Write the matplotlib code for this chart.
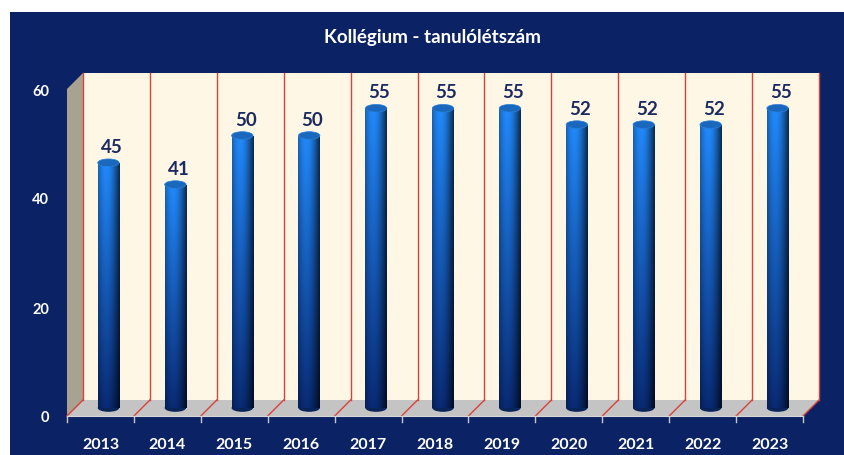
import numpy as np
import matplotlib
matplotlib.use("Agg")
import matplotlib.pyplot as plt
from matplotlib.patches import Rectangle, Polygon, Ellipse

plt.rcParams['font.family'] = ['Lato', 'DejaVu Sans']

# data
years = ['2013', '2014', '2015', '2016', '2017', '2018', '2019', '2020', '2021', '2022', '2023']
students = [45, 41, 50, 50, 55, 55, 55, 52, 52, 52, 55]
yticks = [0, 20, 40, 60]
title = 'Kollégium - tanulólétszám'

navy = '#0b2264'
cream = '#fff7e6'
red = '#d9423c'

W, H = 845, 456
fig = plt.figure(figsize=(W / 100, H / 100), dpi=100)
fig.patch.set_facecolor('white')
fig.add_artist(Rectangle((10 / W, 0), 1 - 10 / W, 1 - 13 / H, transform=fig.transFigure,
                         facecolor=navy, edgecolor='none', zorder=0))

ax = fig.add_axes([67 / W, 39 / H, 736 / W, 327 / H])
ax.set_facecolor('none')
for s in ax.spines.values():
    s.set_visible(False)

n = len(years)
ymax = 60
x0, x1 = -0.5, n - 0.5
# depth offset of the back wall (16 px right, 16 px up)
dx = 16 / (736 / n)
dy = 16 / (327 / ymax)

# back wall, side wall, floor
ax.add_patch(Rectangle((x0 + dx, dy), n, ymax, facecolor=cream, edgecolor='none', zorder=0, clip_on=False))
ax.add_patch(Polygon([(x0, 0), (x0 + dx, dy), (x0 + dx, ymax + dy), (x0, ymax)],
                     facecolor='#a8a390', edgecolor='none', zorder=0, clip_on=False))
ax.add_patch(Polygon([(x0, 0), (x1, 0), (x1 + dx, dy), (x0 + dx, dy)],
                     facecolor='#c4c4c4', edgecolor='none', zorder=0.5, clip_on=False))

# red category separators on wall and floor
for k in range(n + 1):
    xb = x0 + k
    ax.plot([xb + dx, xb + dx], [dy, ymax + dy], color=red, lw=1, zorder=1, clip_on=False)
    ax.plot([xb, xb + dx], [0, dy], color=red, lw=1, zorder=1, clip_on=False)
    # tick marks under the front edge
    ax.plot([xb, xb], [0, -1.1], color='#c8c8c8', lw=1, zorder=1, clip_on=False)
ax.plot([x0, x1], [0, 0], color='#d8d8d8', lw=0.8, zorder=1, clip_on=False)

# cylinder bars
xs = np.arange(n) + dx / 2
base = dy / 2
bw = 0.32
cap_h = 1.4
bars = ax.bar(xs, students, width=bw, bottom=base, color='none', edgecolor='none', zorder=3)

u = np.linspace(-1, 1, 60)
shade = np.clip(0.45 + 0.75 * np.cos((u + 0.25) * 1.35), 0, 1.25)
t = np.linspace(0, 1, 120)[:, None]
top_col = np.array([0.11, 0.45, 0.82])
bot_col = np.array([0.03, 0.14, 0.38])
for b, v in zip(bars, students):
    col = (top_col * (1 - t) + bot_col * t)[:, None, :].repeat(len(u), axis=1)
    img = np.clip(col * shade[None, :, None], 0, 1)
    xl = b.get_x()
    im = ax.imshow(img, extent=(xl, xl + bw, base, base + v), aspect='auto',
                   interpolation='bilinear', zorder=3)
    im.set_clip_path(b)
    ax.add_patch(Ellipse((xl + bw / 2, base), bw, cap_h, facecolor='#082458',
                         edgecolor='none', zorder=2.9))
    ax.add_patch(Ellipse((xl + bw / 2, base + v), bw, cap_h, facecolor='#1a68be',
                         edgecolor='#2a80d8', lw=0.5, zorder=3.1))
    ax.annotate(str(v), (xl + bw / 2 + 0.05, base + v + cap_h / 2), xytext=(0, 3),
                textcoords='offset points', ha='center', va='bottom',
                fontsize=13.5, fontweight='bold', color='#1b2a60', zorder=4)

ax.set_xlim(x0, x1)
ax.set_ylim(0, ymax)
ax.set_xticks(np.arange(n))
ax.set_xticklabels(years, fontsize=11.5, fontweight='bold', color='white')
ax.set_yticks(yticks)
ax.set_yticklabels([str(v) for v in yticks], fontsize=10.5, fontweight='bold', color='white')
ax.tick_params(axis='x', length=0, pad=15)
ax.tick_params(axis='y', length=0, pad=13)

fig.text(432 / W, 1 - 37 / H, title, ha='center', va='center', fontsize=13.5,
         fontweight='bold', color='white')

fig.savefig('out.png', dpi=100, facecolor=fig.get_facecolor())
